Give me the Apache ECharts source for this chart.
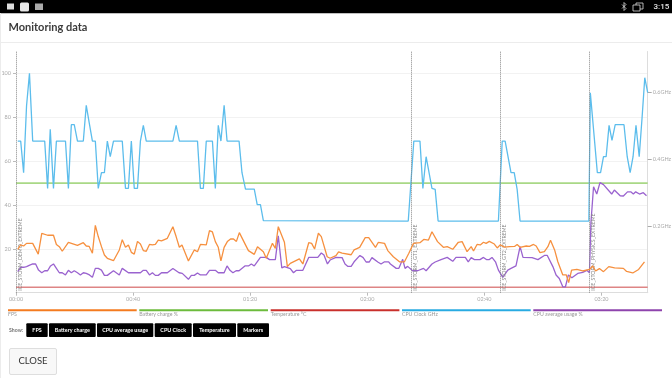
<!DOCTYPE html>
<html><head><meta charset="utf-8">
<style>html,body{margin:0;padding:0;background:#fff}#c{width:672px;height:378px}</style>
<script src="https://cdn.jsdelivr.net/npm/echarts@6/dist/echarts.min.js"></script>
</head><body><div id="c"></div>
<script>
const xTicks=[0,40,80,120,160,200];
const leftTicks=[20,40,60,80,100];
const rightTicks=[0.2,0.4,0.6];
const legendNames=['FPS','Battery charge %','Temperature °C','CPU Clock GHz','CPU average usage %'];
const buttonNames=['FPS','Battery charge','CPU average usage','CPU Clock','Temperature','Markers'];
const markerTimes=[0,134.9,165.4,195.8];
const markerNames=['ICE_STORM_DEMO_EXTREME','ICE_STORM_GT1_EXTREME','ICE_STORM_GT2_EXTREME','ICE_STORM_PHYSICS_EXTREME'];
const flatTimes=[0,215.8];
const batteryValues=[50,50];
const temperatureValues=[2.5,2.5];
const fpsTimes=[.6,1.6,2.6,3.6,5.7,7.6,8.8,10.8,12.8,13.8,14.8,15.8,17.9,21,23,24,25,26.1,27.1,28.1,29.2,30.2,31.2,33.3,35.3,36.3,37.4,38.4,39.4,40.4,41.5,42.5,43.5,44.5,45.6,46.6,47.6,48.6,49.7,51.7,53.6,54.7,55.8,56.7,58.9,60.9,62,63,65,66.1,67.1,68.1,69.1,70,71.1,72.2,73.3,74.3,75.3,76.3,78.4,79.4,81.4,82.5,84.5,85.5,87.6,88.6,89.6,91.7,92.7,93.7,96.8,98,100,101,102,103.3,104.3,106.3,107.3,109.3,110.2,111.4,114.5,115.5,117.4,119.3,120.5,122.8,123.8,125.9,127,128.9,131,132.7,134.2,135.8,138,139.3,140.9,142.1,144,146,147.3,149.2,151.1,152.4,154.1,155.5,156.3,157.5,158.6,159.7,160.6,161.7,163.4,164.4,165.4,166.9,168.6,170.3,171.2,172.2,174.3,175.4,176.8,177.7,179,180.5,181.7,182.6,184,185.1,186.8,188,188.8,189.8,191.6,193.6,195.9,197,198,199.3,200.7,202.5,204.5,207.5,208.6,210.7,212.7,214.7];
const fpsValues=[19.8,21.8,21.3,22.5,22.5,17.6,27.1,26.2,26.2,22,21,18.9,23,21.6,22.8,21.3,21.1,18,30.7,25.6,21,17.2,15.7,14.6,19.5,24.2,20.7,21.8,18.4,17.6,23.4,22.2,19.2,18.9,22,21.8,22,24,23.6,24.8,30.1,25.6,20.7,21.8,14.5,19.5,18.7,22,21.8,28.3,27.7,23.3,20.7,14.5,20.7,23.3,24.5,24.5,23.4,27.4,21.8,19.2,17.5,21,18.7,15.7,22.5,20.2,30.1,23,11.9,13.4,15.4,13.1,22.8,22.5,19.9,27.1,25.6,16.4,15.7,16.9,18.6,18,17.3,19.5,20.7,25.1,25.1,20.7,23,22.5,19.2,16.4,14.1,14.1,18,22.5,22.8,24.3,24,27.8,23.3,20.7,21,19.8,23,23.3,18.7,21,19,22,21.8,23,22.5,23.4,22.2,20.4,21.8,20.8,21,21.1,22,20.7,21.3,21.1,22,21.3,18.3,18.7,21,23.9,19.5,14.1,8.1,8.1,4.6,10.3,10.6,9.9,10.6,12.2,9.9,11,9.6,11.9,11.3,11.1,9.7,9,10.6,14.1];
const clockTimes=[.6,1.6,2.6,3.6,4.6,5.7,9.8,10.8,11.7,12.8,13.8,16.9,17.9,18.9,19.9,21,23,24,25,26.1,27.1,28.1,29.2,30.2,31.2,32.2,33.3,36.3,37.4,38.4,39.4,40.4,41.5,42.5,43.5,44.5,53.6,54.7,55.8,62,63,64,65,67.1,68.1,69.1,70,71.1,72.1,76.2,77.2,78.4,81.4,82.4,83.5,84.5,134,135.9,138,139,140.1,142.1,143.2,144.2,164.8,166.1,167.1,169.1,170.2,171.2,172.2,195.7,196.2,198.6,199.7,200.7,201.6,202.6,203.6,204.7,207.7,208.8,209.8,210.8,211.8,212.9,213.9,214.8,215.8];
const clockValues=[.455,.455,.36,.56,.658,.455,.455,.313,.49,.313,.455,.455,.313,.504,.504,.455,.455,.562,.51,.455,.455,.313,.36,.36,.455,.408,.455,.455,.313,.313,.455,.313,.313,.455,.502,.455,.455,.502,.455,.455,.313,.313,.455,.455,.313,.502,.455,.562,.455,.455,.36,.311,.311,.264,.264,.216,.215,.455,.455,.313,.408,.313,.31,.215,.215,.455,.455,.36,.36,.31,.215,.215,.6,.36,.36,.408,.408,.502,.457,.504,.504,.408,.36,.408,.502,.408,.528,.645,.6];
const cpuTimes=[.6,1.6,2.6,3.6,4.7,5.7,6.7,7.7,8.8,9.8,10.8,11.8,12.8,13.8,14.8,15.8,16.9,17.9,18.9,19.9,21,22,23,24,25.1,26.1,27.1,28.1,29.2,30.2,31.2,33.3,35.3,36.3,38.4,42.5,43.5,44.5,45.6,46.6,47.6,48.6,49.7,51.7,53.6,55.7,56.8,58.9,59.9,60.9,62,63,65,66.1,68.1,69.1,71.1,72.1,73.1,74.1,75.2,76.2,78.2,79.4,80.4,81.4,83.5,85.5,86.6,88.6,89.6,90.8,91.7,93.7,94.8,95.8,98,100,103.1,104.3,105.2,106.4,107.3,109.3,111.4,112.4,113.4,114.5,115.5,117.5,118.6,119.6,120.7,121.6,123.6,124.7,125.9,127.3,127.9,129.9,130.8,132.1,132.9,133.8,135.5,137.2,139.2,140.1,142.1,143.2,145.2,147.3,149.2,150.3,153.5,154.5,155.5,156.6,158.5,159.7,160.7,161.7,162.6,163.8,164.8,166.3,168,169.1,170.8,172.2,173.2,176.3,178.3,180.5,181.5,183.4,184.5,185.6,186.8,187.7,188.7,189.9,191.9,193.6,195,195.9,196.4,197.3,198.4,199.5,200.7,203.5,204.4,206.4,207.5,208.9,210,210.9,211.7,213,214.3,215.4];
const cpuValues=[9.6,11.6,11.6,11.9,12.6,13.1,13.1,10.3,9.1,10,10,12.2,13.1,11.1,9.1,9.1,8.1,10.2,9.1,10,9.1,8.1,9.1,8.8,8.1,7,11.1,11.1,10.3,7.9,7.9,10,8.1,11.1,9.1,9.1,10.2,10.2,8.1,9.1,7.9,7.9,9.1,9.1,11,9.1,8.8,6.1,7.9,7.9,9,8.1,8.1,10.2,10.2,9.1,9.1,12.2,10.2,9.1,10,10,12.2,12.2,13.1,12.2,16.1,16.1,15.1,15.1,25.9,11.3,11.9,11,9.1,10.2,10.2,16.1,16.1,18.1,17.2,13.1,14.9,16.1,16,13.1,12,12,14.1,17,16,14,14,16,14,13.1,14.1,14.1,13.1,11.1,11.1,15.2,11.1,12,10,10,11.1,10,13.1,14,15.1,16.1,14.3,16.1,16.1,14.1,16,15.1,15.1,16.1,15.1,15.1,16.1,14.1,10.3,7,10.3,11.1,12.2,21,16.1,16,15.1,17,17,11.9,8.1,6.5,2.7,2.7,8.1,6.8,8.8,9.3,10.2,9.1,31.8,48.3,45,50.2,49.3,45,46.8,44.2,44.1,46,46,45,46,45,45.6,44.2];

const zip=(a,b)=>a.map((t,i)=>[t,b[i]]);
const font='Lato';
const axisGrey='#aaaaaa';
const fmt=v=>{const m=Math.floor(v/60),s=Math.round(v%60);return String(m).padStart(2,'0')+':'+String(s).padStart(2,'0');};
const line=(name,t,v,color,yi,z,w)=>({name,type:'line',data:zip(t,v),yAxisIndex:yi||0,showSymbol:false,symbol:'none',z:z||2,animation:false,lineStyle:{color,width:w||1.3},itemStyle:{color}});

// page furniture
const legendColors=['#f47b20','#6cbb3c','#c9302c','#29abe2','#8e44ad'];
const legendX=[8,139.3,270.7,402,533.3];
const btnBox=[[26.3,21.4],[49,46.7],[97,56.3],[154.7,37],[193,43],[237.3,31.7]];
const g=[];
g.push({type:'rect',shape:{x:0,y:0,width:672,height:13.3},style:{fill:'#000'},silent:true});
g.push({type:'rect',shape:{x:0,y:42,width:672,height:1},style:{fill:'#ececec'}});
g.push({type:'rect',shape:{x:0,y:13,width:1,height:365},style:{fill:'#ececec'}});
g.push({type:'rect',shape:{x:7,y:3.5,width:7,height:6},style:{fill:'#ddd'}});
g.push({type:'rect',shape:{x:20,y:2.5,width:9,height:9,r:1.5},style:{fill:'#e6e6e6'}});
g.push({type:'rect',shape:{x:35,y:3.5,width:8,height:6.5},style:{fill:'#aaa'}});
g.push({type:'polyline',shape:{points:[[622,4.5],[626,8.5],[624,10.5],[624,2.5],[626,4.5],[622,8.5]]},style:{stroke:'#ddd',fill:null,lineWidth:.8}});
g.push({type:'rect',shape:{x:636,y:3,width:7,height:6},style:{stroke:'#ddd',fill:null,lineWidth:.8}});
g.push({type:'rect',shape:{x:633,y:5,width:7,height:6},style:{stroke:'#ddd',fill:'#000',lineWidth:.8}});
g.push({type:'text',x:653.5,y:6.7,style:{text:'3:15',fill:'#e8e8e8',font:'500 8px Roboto',textVerticalAlign:'middle'}});
g.push({type:'text',x:8.5,y:27,style:{text:'Monitoring data',fill:'#3c3c3c',font:'bold 11px '+font,textVerticalAlign:'middle'}});
legendNames.forEach((n,i)=>{
  g.push({type:'rect',shape:{x:legendX[i],y:309.3,width:128.7,height:2},style:{fill:legendColors[i]}});
  g.push({type:'text',x:legendX[i],y:314.5,style:{text:n,fill:'#999',font:'5.2px '+font,textVerticalAlign:'middle'}});
});
g.push({type:'text',x:9,y:330,style:{text:'Show:',fill:'#777',font:'bold 5.2px '+font,textVerticalAlign:'middle'}});
buttonNames.forEach((n,i)=>{
  const [x,w]=btnBox[i];
  g.push({type:'rect',shape:{x,y:323.3,width:w,height:13.7,r:1},style:{fill:'#000'}});
  g.push({type:'text',x:x+w/2,y:330.3,style:{text:n,fill:'#fff',font:'bold 5.4px '+font,textAlign:'center',textVerticalAlign:'middle'}});
});
g.push({type:'rect',shape:{x:9.5,y:348.5,width:47,height:26,r:1.5},style:{fill:'#f8f8f8',stroke:'#dedede',lineWidth:1}});
g.push({type:'text',x:33,y:360.7,style:{text:'CLOSE',fill:'#333',font:'9.5px '+font,textAlign:'center',textVerticalAlign:'middle'}});

const chart=echarts.init(document.getElementById('c'),null,{renderer:'canvas'});
chart.setOption({
  animation:false,backgroundColor:'#fff',
  textStyle:{fontFamily:font},
  grid:{left:16,right:24.3,top:51.5,bottom:85.3,outerBoundsMode:'none',containLabel:false},
  xAxis:{type:'value',min:0,max:215.8,interval:40,
    axisLine:{show:true,onZero:false,lineStyle:{color:'#dddddd',width:1.2}},
    axisTick:{show:true,length:3,lineStyle:{color:'#bbb'}},
    axisLabel:{fontSize:5.5,color:axisGrey,margin:3.5,showMaxLabel:false,formatter:v=>xTicks.includes(v)?fmt(v):''},
    splitLine:{show:false}},
  yAxis:[
   {type:'value',min:0,max:110,interval:10,
    axisLine:{show:false},
    axisTick:{show:true,length:3,customValues:leftTicks,lineStyle:{color:'#bbb'}},
    axisLabel:{fontSize:5.5,color:axisGrey,margin:5,customValues:leftTicks},
    splitLine:{show:true,lineStyle:{color:'#f2f2f2',width:1}}},
   {type:'value',min:0,max:0.7236,interval:0.2,position:'right',
    axisLine:{show:true,lineStyle:{color:'#dddddd',width:1}},
    axisTick:{show:true,length:4,customValues:rightTicks,lineStyle:{color:'#aaa'}},
    axisLabel:{fontSize:5.5,color:axisGrey,margin:5,customValues:rightTicks,formatter:v=>v.toFixed(1)+'GHz'},
    splitLine:{show:false}}
  ],
  series:[
    line('Battery charge %',flatTimes,batteryValues,'#a9d886',0,2,1.8),
    line('Temperature °C',flatTimes,temperatureValues,'#de8585',0,2,1.5),
    line('CPU Clock GHz',clockTimes,clockValues,'#5cbdec',1,3),
    line('CPU average usage %',cpuTimes,cpuValues,'#9a63cf',0,4),
    line('FPS',fpsTimes,fpsValues,'#f6903f',0,5),
    {name:'Markers',type:'line',data:[],z:6,
     markLine:{silent:true,symbol:'none',animation:false,
       lineStyle:{color:'#888',type:[1,1],width:1},
       label:{show:true,position:'insideStartBottom',formatter:'{b}',fontSize:5.2,color:'#888',distance:2},
       data:markerTimes.map((t,i)=>({xAxis:t,name:markerNames[i]}))}}
  ],
  graphic:g
});
</script></body></html>
